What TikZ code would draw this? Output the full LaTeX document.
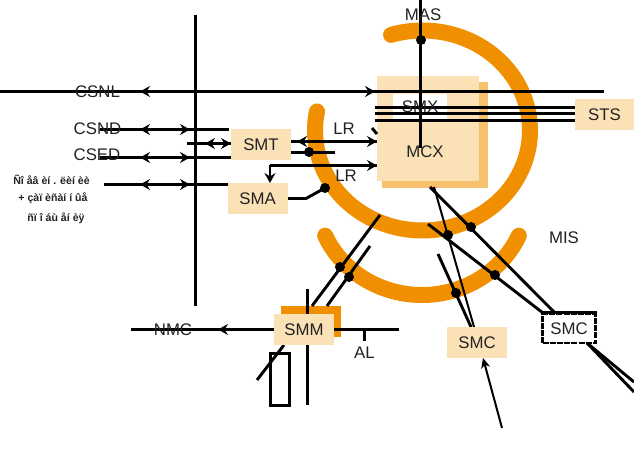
\documentclass[tikz,border=0pt]{standalone}
\usepackage{fontspec}
\setmainfont{Liberation Sans}
\usetikzlibrary{arrows.meta,decorations.markings}
\definecolor{peach}{HTML}{FBE1B6}
\definecolor{peachdk}{HTML}{F6C06C}
\definecolor{ring}{HTML}{F09000}
\definecolor{ink}{HTML}{222222}
\tikzset{
  ln/.style={line width=2.9pt,black},
  thin ln/.style={line width=2pt,black},
  ringline/.style={line width=16pt,ring,line cap=round},
  box/.style={fill=peach,minimum width=60pt,minimum height=31pt,inner sep=0pt,text=ink,font=\fontsize{16.8}{19}\selectfont},
  lab/.style={inner sep=0pt,text=ink,font=\fontsize{16.8}{19}\selectfont},
  small/.style={inner sep=0pt,text=ink,font=\fontsize{10.6}{12}\selectfont\bfseries},
  junction/.style={circle,fill=black,inner sep=0pt,minimum size=10pt},
  tipR/.style={postaction={decorate,decoration={markings,mark=at position #1 with {\arrow{Stealth[length=10pt,width=11pt,inset=3.5pt]}}}}},
  tipL/.style={postaction={decorate,decoration={markings,mark=at position #1 with {\arrowreversed{Stealth[length=10pt,width=11pt,inset=3.5pt]}}}}}
}
\begin{document}
\begin{tikzpicture}[x=1pt,y=-1pt]
\useasboundingbox[fill=white] (0,0) rectangle (634,454);
% blocks behind
\fill[peachdk] (382,82) rectangle (488,188);
\fill[peach] (377,76) rectangle (479,181);
\fill[white] (393,94) rectangle (447,119);
\fill[ring] (281,306) rectangle (341,337);
% rings
\draw[ringline] plot[domain=107:-191,samples=90,smooth] ({422.5+107.5*cos(\x)},{130.5-100*sin(\x)});
\draw[ringline] plot[domain=204:336,samples=50,smooth] ({422+106*cos(\x)},{195-100*sin(\x)});
% free ends
\coordinate (csnlL) at (0,91.5); \coordinate (csnlR) at (604,91.5);
\coordinate (busT) at (195.5,15); \coordinate (busB) at (195.5,306);
\coordinate (csndL) at (100,129.5); \coordinate (csndR) at (229,129.5);
\coordinate (midL) at (187,143.5); \coordinate (midR) at (231,143.5);
\coordinate (csedL) at (100,157.5); \coordinate (csedR) at (231,157.5);
\coordinate (lowL) at (104,184.5); \coordinate (lowR) at (228,184.5);
\coordinate (lrA) at (291,141.5); \coordinate (lrB) at (377,141.5);
\coordinate (stubA) at (291,152.5); \coordinate (stubB) at (335,152.5);
\coordinate (lrC) at (270,165.5); \coordinate (lrD) at (377,165.5);
\coordinate (lrE) at (270,183);
\coordinate (smaA) at (285,198.5); \coordinate (smaB) at (306,198.5);
\coordinate (tickA) at (372,128); \coordinate (tickB) at (377,134);
\coordinate (masT) at (420.5,0); \coordinate (masB) at (420.5,148);
\coordinate (s1L) at (375,107.5); \coordinate (s1R) at (575,107.5);
\coordinate (s2L) at (375,113.5); \coordinate (s2R) at (575,113.5);
\coordinate (s3L) at (375,120.5); \coordinate (s3R) at (575,120.5);
\coordinate (d1T) at (380,215); \coordinate (d1B) at (312,306);
\coordinate (d2T) at (370,246); \coordinate (d2B) at (327,306);
\coordinate (vT) at (307.5,289); \coordinate (vB) at (307.5,405);
\coordinate (nmcL) at (131,329.5); \coordinate (nmcR) at (399,329.5);
\coordinate (alA) at (364.5,329); \coordinate (alB) at (364.5,341);
\coordinate (slA) at (257,380); \coordinate (slB) at (284,345);
\coordinate (r1T) at (430,187); \coordinate (r1B) at (555,313);
\coordinate (r2T) at (428,224); \coordinate (r2B) at (543,313);
\coordinate (r3T) at (438,254); \coordinate (r3B) at (471,327);
\coordinate (r4T) at (434,187); \coordinate (r4B) at (474,327);
\coordinate (upA) at (502,428); \coordinate (upB) at (483,358);
\coordinate (outA) at (587,343); \coordinate (outB) at (634,392); \coordinate (outC) at (634,382);
% connectors
\draw[ln,tipL=140pt,tipR=375pt] (csnlL) -- (csnlR);
\draw[ln] (busT) -- (busB);
\draw[ln,tipL=40pt,tipR=90pt] (csndL) -- (csndR);
\draw[ln,tipL=18pt,tipR=44pt] (midL) -- (midR);
\draw[ln,tipL=40pt,tipR=90pt] (csedL) -- (csedR);
\draw[ln,tipL=36pt,tipR=86pt] (lowL) -- (lowR);
\draw[ln,tipL=6pt,tipR=86pt] (lrA) -- (lrB);
\draw[ln] (stubA) -- (stubB);
\draw[ln,tipR=107pt] (lrC) -- (lrD);
\draw[ln,-{Stealth[length=10pt,width=11pt,inset=3.5pt]}] (lrC) -- (lrE);
\draw[ln] (smaA) -- (smaB) -- (325,188);
\draw[ln] (tickA) -- (tickB);
\draw[ln] (masT) -- (masB);
\draw[ln] (s1L) -- (s1R);
\draw[ln] (s2L) -- (s2R);
\draw[ln] (s3L) -- (s3R);
\draw[ln] (d1T) -- (d1B);
\draw[ln] (d2T) -- (d2B);
\draw[ln] (vT) -- (vB);
\draw[ln,tipL=87pt] (nmcL) -- (nmcR);
\draw[ln] (alA) -- (alB);
\draw[ln] (slA) -- (slB);
\draw[ln] (r1T) -- (r1B);
\draw[ln] (r2T) -- (r2B);
\draw[ln] (r3T) -- (r3B);
\draw[thin ln] (r4T) -- (r4B);
\draw[thin ln,-{Stealth[length=10pt,width=9pt,inset=3pt]}] (upA) -- (upB);
\draw[ln] (outA) -- (outB);
\draw[ln] (outA) -- (outC);
% junctions
\node[junction] (j1) at (421,40) {};
\node[junction] (j2) at (309,152) {};
\node[junction] (j3) at (325,188) {};
\node[junction] (j4) at (340,267) {};
\node[junction] (j5) at (349,277) {};
\node[junction] (j6) at (471,227) {};
\node[junction] (j7) at (448,235) {};
\node[junction] (j8) at (495,275) {};
\node[junction] (j9) at (456,293) {};
% boxes
\node[box] (smt) at (261,145) {SMT};
\node[box] (sma) at (257.5,198.5) {SMA};
\node[box,minimum width=59pt] (sts) at (604.5,115) {STS};
\node[box] (smm) at (304,329.5) {SMM};
\node[box] (smc1) at (477,342.5) {SMC};
\node[draw=black,line width=2.8pt,dash pattern=on 6pt off 1.2pt,fill=white,minimum width=53pt,minimum height=29pt,inner sep=0pt,text=ink,font=\fontsize{16.8}{19}\selectfont] (smc2) at (569,328.5) {SMC};
\draw[line width=2.8pt] (smc2.north west) -- (smc2.north east);
\draw[draw=black,line width=3pt] (270.5,353.5) rectangle (289.5,405.5);
% labels
\node[lab] (csnl) at (97.5,91.5) {CSNL};
\node[lab] (csnd) at (97.5,128.5) {CSND};
\node[lab] (csed) at (97,154.5) {CSED};
\node[small] (t1) at (51.5,180) {Ñî åâ èí . ëèí èè};
\node[small] (t2) at (53,198.5) {+ çàï èñàí í ûå};
\node[small] (t3) at (56,218) {ñï î áù åí èÿ};
\node[lab] (lr1) at (344,129) {LR};
\node[lab] (lr2) at (346,175.5) {LR};
\node[lab] (mas) at (423,15) {MAS};
\node[lab] (smx) at (420,106.5) {SMX};
\node[lab] (mcx) at (425,151.5) {MCX};
\node[lab] (mis) at (564,237.5) {MIS};
\node[lab] (nmc) at (173,330) {NMC};
\node[lab] (al) at (364.5,353) {AL};
\end{tikzpicture}
\end{document}
